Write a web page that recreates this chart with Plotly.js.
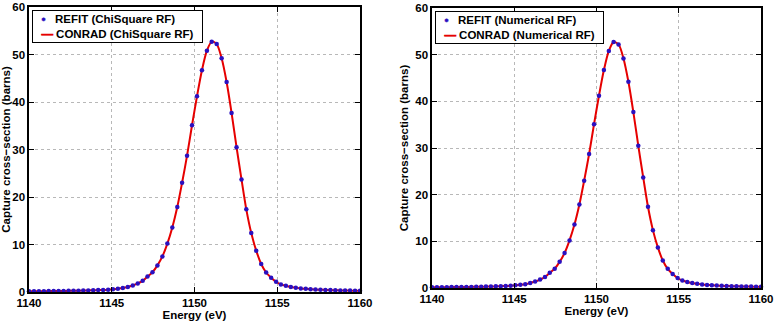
<!DOCTYPE html>
<html>
<head>
<meta charset="utf-8">
<script src="https://cdn.plot.ly/plotly-3.0.1.min.js"></script>
<style>
  html, body { margin: 0; padding: 0; background: #ffffff; }
  #chart { width: 776px; height: 322px; }
</style>
</head>
<body>
<div id="chart"></div>
<script>
// Energy grid (eV) of the capture cross-section points
const energy = [
  1140.00, 1140.30, 1140.60, 1140.90, 1141.19, 1141.49, 1141.79, 1142.09, 1142.39, 1142.69,
  1142.99, 1143.28, 1143.58, 1143.88, 1144.18, 1144.48, 1144.78, 1145.07, 1145.37, 1145.67,
  1145.97, 1146.27, 1146.57, 1146.87, 1147.16, 1147.46, 1147.76, 1148.06, 1148.36, 1148.66,
  1148.96, 1149.25, 1149.55, 1149.85, 1150.15, 1150.45, 1150.75, 1151.04, 1151.34, 1151.64,
  1151.94, 1152.24, 1152.54, 1152.84, 1153.13, 1153.43, 1153.73, 1154.03, 1154.33, 1154.63,
  1154.93, 1155.22, 1155.52, 1155.82, 1156.12, 1156.42, 1156.72, 1157.01, 1157.31, 1157.61,
  1157.91, 1158.21, 1158.51, 1158.81, 1159.10, 1159.40, 1159.70, 1160.00
];

// REFIT capture cross-section (barns)
const refitSigma = [
  0.16, 0.17, 0.17, 0.18, 0.19, 0.20, 0.22, 0.23, 0.24, 0.26,
  0.28, 0.30, 0.33, 0.36, 0.40, 0.44, 0.50, 0.58, 0.68, 0.82,
  1.05, 1.38, 1.80, 2.35, 3.25, 4.15, 5.60, 7.50, 10.2, 13.6,
  17.9, 23.0, 28.7, 35.1, 41.2, 46.7, 50.8, 52.7, 52.2, 49.2,
  44.2, 37.7, 30.5, 23.7, 17.4, 12.4, 8.70, 5.90, 4.10, 3.00,
  2.15, 1.60, 1.30, 1.05, 0.90, 0.76, 0.66, 0.58, 0.52, 0.47,
  0.43, 0.40, 0.37, 0.34, 0.32, 0.30, 0.28, 0.27
];

// CONRAD capture cross-section (barns)
const conradSigma = [
  0.16, 0.17, 0.17, 0.18, 0.19, 0.20, 0.22, 0.23, 0.24, 0.26,
  0.28, 0.30, 0.33, 0.36, 0.40, 0.44, 0.50, 0.58, 0.68, 0.82,
  1.05, 1.38, 1.80, 2.35, 3.25, 4.15, 5.60, 7.50, 10.2, 13.6,
  17.9, 23.0, 28.7, 35.1, 41.2, 46.7, 50.8, 52.7, 52.2, 49.2,
  44.2, 37.7, 30.5, 23.7, 17.4, 12.4, 8.70, 5.90, 4.10, 3.00,
  2.15, 1.60, 1.30, 1.05, 0.90, 0.76, 0.66, 0.58, 0.52, 0.47,
  0.43, 0.40, 0.37, 0.34, 0.32, 0.30, 0.28, 0.27
];

const xTicks = [1140, 1145, 1150, 1155, 1160];
const yTicks = [0, 10, 20, 30, 40, 50, 60];
const fitMethods = ['ChiSquare RF', 'Numerical RF'];
const xTitle = 'Energy (eV)';
const yTitle = 'Capture cross\u2212section (barns)';

const W = 776, H = 322;
const FONT = 'Liberation Sans, Arial, sans-serif';
const REFIT_COLOR = '#2a10c0';
const CONRAD_COLOR = '#e60000';
const boldFont = (size) => ({ family: FONT, size: size, color: '#000000', weight: 'bold' });

// pixel boxes of the two panels: [left, right, top, bottom]
const panels = [
  [29, 360, 7, 292],
  [432, 761, 8, 288]
];

function xAxis(p, anchor) {
  return {
    domain: [p[0] / W, p[1] / W], anchor: anchor, range: [1140, 1160],
    tickvals: xTicks, ticktext: xTicks.map(String),
    showline: true, mirror: 'ticks', linecolor: '#000', linewidth: 1.6,
    ticks: 'inside', ticklen: 5, tickcolor: '#000', tickwidth: 1,
    showgrid: true, gridcolor: '#b8b8b8', griddash: 'dot', gridwidth: 1,
    zeroline: false, tickfont: boldFont(11.5), automargin: false,
    title: { text: xTitle, font: boldFont(11.5), standoff: 1 }
  };
}
function yAxis(p, anchor) {
  return {
    domain: [1 - p[3] / H, 1 - p[2] / H], anchor: anchor, range: [0, 60],
    tickvals: yTicks, ticktext: yTicks.map(String),
    showline: true, mirror: 'ticks', linecolor: '#000', linewidth: 1.6,
    ticks: 'inside', ticklen: 5, tickcolor: '#000', tickwidth: 1,
    showgrid: true, gridcolor: '#b8b8b8', griddash: 'dot', gridwidth: 1,
    zeroline: false, tickfont: boldFont(11.5), automargin: false,
    title: { text: yTitle, font: boldFont(11.5), standoff: 4 }
  };
}

// compact two-row key in the upper-left corner of each panel
const NB = '\u00a0';
function keyBox(p, refitName, conradName) {
  const dot = '<span style="color:' + REFIT_COLOR + ';stroke:' + REFIT_COLOR + ';stroke-width:0.4px">\u2022</span>';
  const dash = '<span style="color:' + CONRAD_COLOR + ';stroke:' + CONRAD_COLOR + ';stroke-width:0.7px">\u2014</span>';
  const text =
    NB + NB + dot + NB + NB + NB + refitName + NB + NB + '<br>' +
    NB + NB + dash + NB + conradName + NB + NB;
  return {
    xref: 'paper', yref: 'paper',
    x: (p[0] + 3) / W, y: 1 - (p[2] + 3) / H,
    xanchor: 'left', yanchor: 'top', align: 'left',
    showarrow: false, text: text, font: boldFont(11.5),
    bgcolor: '#ffffff', bordercolor: '#000000', borderwidth: 1, borderpad: 2
  };
}

const traces = [];
const annotations = [];
fitMethods.forEach((m, k) => {
  const xa = k === 0 ? 'x' : 'x2';
  const ya = k === 0 ? 'y' : 'y2';
  const refitName = 'REFIT (' + m + ')';
  const conradName = 'CONRAD (' + m + ')';
  traces.push({
    x: energy, y: conradSigma, xaxis: xa, yaxis: ya,
    type: 'scatter', mode: 'lines', name: conradName, showlegend: false,
    line: { color: CONRAD_COLOR, width: 2, shape: 'spline', smoothing: 0.8 },
    cliponaxis: false, hoverinfo: 'skip'
  });
  traces.push({
    x: energy, y: refitSigma, xaxis: xa, yaxis: ya,
    type: 'scatter', mode: 'markers', name: refitName, showlegend: false,
    marker: { color: REFIT_COLOR, size: 4.5, line: { width: 0 } },
    cliponaxis: false, hoverinfo: 'skip'
  });
  annotations.push(keyBox(panels[k], refitName, conradName));
});

const layout = {
  width: W, height: H,
  margin: { l: 0, r: 0, t: 0, b: 0 },
  paper_bgcolor: '#ffffff', plot_bgcolor: '#ffffff',
  showlegend: false,
  xaxis: xAxis(panels[0], 'y'),
  yaxis: yAxis(panels[0], 'x'),
  xaxis2: xAxis(panels[1], 'y2'),
  yaxis2: yAxis(panels[1], 'x2'),
  annotations: annotations
};

Plotly.newPlot('chart', traces, layout, { staticPlot: true, displayModeBar: false });
</script>
</body>
</html>
